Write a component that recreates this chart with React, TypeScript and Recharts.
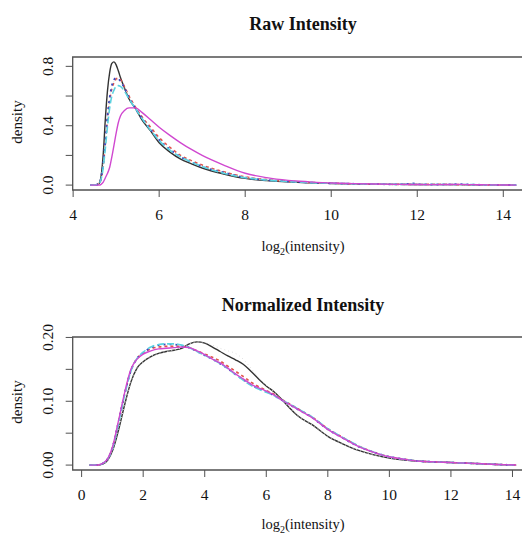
import React from "react";
import { LineChart, Line, XAxis, YAxis, ReferenceArea } from "recharts";

// ---------- Raw intensity panel ----------
const rawX = [4.4, 4.5, 4.6, 4.65, 4.7, 4.75, 4.8, 4.85, 4.9, 4.95, 5.0, 5.05, 5.1, 5.2, 5.3, 5.45, 5.6, 5.8, 6.0, 6.25, 6.5, 6.75, 7.0, 7.5, 8.0, 8.5, 9.0, 9.5, 10, 10.5, 11, 11.5, 11.85, 11.9, 12, 12.5, 13, 13.5, 14, 14.3];
const rawBlack = [0, 0, 0.01, 0.06, 0.21, 0.45, 0.64, 0.76, 0.82, 0.83, 0.81, 0.77, 0.725, 0.65, 0.58, 0.515, 0.44, 0.365, 0.285, 0.222, 0.175, 0.143, 0.115, 0.075, 0.045, 0.03, 0.022, 0.015, 0.011, 0.008, 0.006, 0.005, 0.004, 0.004, 0.004, 0.003, 0.003, 0.002, 0.001, 0];
const rawRed = [0, 0, 0.01, 0.04, 0.13, 0.28, 0.45, 0.57, 0.65, 0.69, 0.715, 0.72, 0.71, 0.66, 0.6, 0.525, 0.46, 0.39, 0.32, 0.255, 0.2, 0.165, 0.135, 0.09, 0.055, 0.037, 0.026, 0.018, 0.013, 0.009, 0.007, 0.005, 0.005, 0.005, 0.004, 0.006, 0.003, 0.002, 0.001, 0];
const rawGray = [0, 0, 0.01, 0.045, 0.14, 0.29, 0.46, 0.58, 0.66, 0.7, 0.71, 0.71, 0.7, 0.655, 0.595, 0.52, 0.455, 0.38, 0.31, 0.245, 0.192, 0.158, 0.128, 0.086, 0.052, 0.035, 0.024, 0.017, 0.012, 0.009, 0.007, 0.005, 0.005, 0.005, 0.004, 0.004, 0.003, 0.002, 0.001, 0];
const rawBlue = [0, 0, 0.01, 0.05, 0.15, 0.3, 0.47, 0.59, 0.67, 0.71, 0.72, 0.715, 0.7, 0.65, 0.59, 0.515, 0.45, 0.375, 0.305, 0.24, 0.19, 0.155, 0.125, 0.085, 0.05, 0.034, 0.024, 0.017, 0.012, 0.009, 0.007, 0.005, 0.01, 0.012, 0.005, 0.004, 0.006, 0.002, 0.001, 0];
const rawCyan = [0, 0, 0.01, 0.04, 0.12, 0.25, 0.4, 0.52, 0.6, 0.64, 0.665, 0.67, 0.665, 0.63, 0.58, 0.515, 0.45, 0.37, 0.3, 0.235, 0.19, 0.155, 0.125, 0.08, 0.05, 0.034, 0.024, 0.017, 0.012, 0.009, 0.007, 0.005, 0.005, 0.005, 0.004, 0.004, 0.004, 0.002, 0.001, 0];
const rawMagenta = [0, 0, 0, 0.005, 0.02, 0.05, 0.08, 0.12, 0.19, 0.27, 0.35, 0.42, 0.465, 0.505, 0.52, 0.52, 0.49, 0.44, 0.39, 0.335, 0.285, 0.24, 0.2, 0.135, 0.08, 0.05, 0.032, 0.022, 0.014, 0.01, 0.007, 0.005, 0.004, 0.004, 0.004, 0.003, 0.005, 0.002, 0.001, 0];
const rawXTicks = [4, 6, 8, 10, 12, 14];
const rawYTicks = [0, 0.2, 0.4, 0.6, 0.8];
const rawYLabels = ["0.0", "", "0.4", "", "0.8"];

// ---------- Normalized intensity panel ----------
const normX = [0.26, 0.5, 0.7, 0.85, 1.0, 1.2, 1.4, 1.6, 1.8, 2.0, 2.25, 2.5, 2.75, 3.0, 3.25, 3.5, 3.75, 4.0, 4.25, 4.5, 4.75, 5.0, 5.25, 5.5, 5.75, 6.0, 6.25, 6.5, 6.75, 7.0, 7.5, 8.0, 8.5, 9.0, 9.5, 10, 10.5, 11, 11.5, 12, 12.5, 13, 13.5, 14.12];
const normBlack = [0, 0, 0.002, 0.008, 0.022, 0.055, 0.095, 0.13, 0.152, 0.162, 0.17, 0.175, 0.178, 0.18, 0.183, 0.19, 0.193, 0.191, 0.185, 0.178, 0.171, 0.165, 0.158, 0.147, 0.135, 0.124, 0.115, 0.103, 0.09, 0.078, 0.063, 0.045, 0.033, 0.023, 0.016, 0.011, 0.008, 0.006, 0.005, 0.004, 0.003, 0.002, 0.001, 0];
const normRed = [0, 0, 0.003, 0.01, 0.027, 0.068, 0.112, 0.148, 0.167, 0.175, 0.182, 0.185, 0.186, 0.186, 0.186, 0.184, 0.179, 0.174, 0.169, 0.163, 0.155, 0.147, 0.139, 0.13, 0.123, 0.117, 0.111, 0.103, 0.096, 0.089, 0.075, 0.057, 0.043, 0.03, 0.02, 0.013, 0.009, 0.006, 0.005, 0.004, 0.003, 0.002, 0.001, 0];
const normGray = [0, 0, 0.002, 0.008, 0.022, 0.055, 0.095, 0.13, 0.152, 0.162, 0.17, 0.175, 0.178, 0.18, 0.184, 0.19, 0.193, 0.192, 0.188, 0.183, 0.179, 0.175, 0.166, 0.152, 0.137, 0.125, 0.115, 0.103, 0.09, 0.078, 0.063, 0.045, 0.033, 0.023, 0.016, 0.011, 0.008, 0.006, 0.005, 0.004, 0.003, 0.002, 0.001, 0];
const normBlue = [0, 0, 0.003, 0.01, 0.027, 0.068, 0.112, 0.148, 0.167, 0.176, 0.184, 0.188, 0.189, 0.189, 0.187, 0.184, 0.178, 0.172, 0.166, 0.159, 0.151, 0.142, 0.134, 0.126, 0.12, 0.115, 0.109, 0.102, 0.095, 0.088, 0.074, 0.056, 0.042, 0.029, 0.02, 0.013, 0.009, 0.006, 0.005, 0.004, 0.003, 0.002, 0.001, 0];
const normCyan = [0, 0, 0.003, 0.01, 0.026, 0.066, 0.11, 0.147, 0.167, 0.177, 0.185, 0.189, 0.19, 0.19, 0.188, 0.184, 0.178, 0.172, 0.166, 0.159, 0.151, 0.142, 0.133, 0.125, 0.119, 0.114, 0.109, 0.102, 0.096, 0.089, 0.075, 0.057, 0.043, 0.03, 0.02, 0.013, 0.009, 0.006, 0.005, 0.004, 0.003, 0.002, 0.001, 0];
const normMagenta = [0, 0, 0.003, 0.01, 0.028, 0.07, 0.114, 0.15, 0.166, 0.174, 0.179, 0.182, 0.183, 0.184, 0.185, 0.184, 0.179, 0.173, 0.166, 0.16, 0.152, 0.143, 0.135, 0.127, 0.121, 0.116, 0.11, 0.102, 0.095, 0.088, 0.074, 0.056, 0.042, 0.029, 0.02, 0.013, 0.009, 0.006, 0.005, 0.004, 0.003, 0.002, 0.001, 0];
const normXTicks = [0, 2, 4, 6, 8, 10, 12, 14];
const normYTicks = [0, 0.05, 0.1, 0.15, 0.2];
const normYLabels = ["0.00", "", "0.10", "", "0.20"];

const seriesKeys = ["black", "red", "gray", "blue", "cyan", "magenta"];

const FONT = "'Liberation Serif', 'DejaVu Serif', serif";
const AXIS = "#505050";

function buildRows(xs: number[], cols: number[][]) {
  return xs.map((x, i) => {
    const row: any = { x };
    seriesKeys.forEach((k, j) => {
      row[k] = cols[j][i];
    });
    return row;
  });
}

const rawRows = buildRows(rawX, [rawBlack, rawRed, rawGray, rawBlue, rawCyan, rawMagenta]);
const normRows = buildRows(normX, [normBlack, normRed, normGray, normBlue, normCyan, normMagenta]);

const styles: Record<string, any> = {
  black: { stroke: "#333333", strokeWidth: 1.4 },
  red: { stroke: "#e0524a", strokeWidth: 1.6, strokeDasharray: "3 3" },
  gray: { stroke: "#dedede", strokeWidth: 1, strokeDasharray: "1 3" },
  blue: { stroke: "#3848c0", strokeWidth: 1.8, strokeDasharray: "2 4" },
  cyan: { stroke: "#5ad2e0", strokeWidth: 1.6, strokeDasharray: "7 3" },
  magenta: { stroke: "#d048d0", strokeWidth: 1.4 },
};

const XTick = (props: any) => {
  const { x, y, payload } = props;
  return (
    <text x={x} y={y + 15} textAnchor="middle" dominantBaseline="central" fontFamily={FONT} fontSize={15.5} fill="#111">
      {payload.value}
    </text>
  );
};

const makeYTick = (ticks: number[], labels: string[]) => (props: any) => {
  const { x, y, payload } = props;
  const idx = ticks.findIndex((t) => Math.abs(t - payload.value) < 1e-9);
  const label = idx >= 0 ? labels[idx] : "";
  if (!label) return <g />;
  const cx = x - 16;
  return (
    <text x={cx} y={y} textAnchor="middle" dominantBaseline="central" fontFamily={FONT} fontSize={15.5} fill="#111" transform={`rotate(-90, ${cx}, ${y})`}>
      {label}
    </text>
  );
};

const RawYTick = makeYTick(rawYTicks, rawYLabels);
const NormYTick = makeYTick(normYTicks, normYLabels);

function Panel(props: {
  rows: any[];
  height: number;
  bottom: number;
  xDomain: [number, number];
  yDomain: [number, number];
  xTicks: number[];
  yTicks: number[];
  YTick: any;
}) {
  const { rows, height, bottom, xDomain, yDomain, xTicks, yTicks, YTick } = props;
  return (
    <LineChart width={560} height={height} data={rows} margin={{ top: 57, left: 12.7, right: 26.6, bottom }}>
      <XAxis
        dataKey="x"
        type="number"
        domain={xDomain}
        allowDataOverflow
        ticks={xTicks}
        interval={0}
        height={30}
        axisLine={false}
        tickLine={{ stroke: AXIS, strokeWidth: 1 }}
        tickSize={7}
        tick={<XTick />}
      />
      <YAxis
        type="number"
        domain={yDomain}
        allowDataOverflow
        ticks={yTicks}
        interval={0}
        width={60}
        axisLine={false}
        tickLine={{ stroke: AXIS, strokeWidth: 1 }}
        tickSize={7}
        tick={<YTick />}
      />
      <ReferenceArea
        x1={xDomain[0]}
        x2={xDomain[1]}
        y1={yDomain[0]}
        y2={yDomain[1]}
        fill="none"
        fillOpacity={0}
        stroke={AXIS}
        strokeWidth={1.3}
        ifOverflow="visible"
      />
      {seriesKeys.map((k) => (
        <Line
          key={k}
          dataKey={k}
          type="monotone"
          dot={false}
          activeDot={false}
          isAnimationActive={false}
          {...styles[k]}
        />
      ))}
    </LineChart>
  );
}

export default function App() {
  return (
    <div style={{ position: "absolute", left: 0, top: 0, width: 522, height: 534, overflow: "hidden", background: "#fff" }}>
      <div style={{ position: "absolute", left: 0, top: 0 }}>
        <Panel
          rows={rawRows}
          height={267}
          bottom={47}
          xDomain={[3.99, 14.7]}
          yDomain={[-0.033, 0.863]}
          xTicks={rawXTicks}
          yTicks={rawYTicks}
          YTick={RawYTick}
        />
      </div>
      <div style={{ position: "absolute", left: 0, top: 280 }}>
        <Panel
          rows={normRows}
          height={254}
          bottom={34}
          xDomain={[-0.29, 14.68]}
          yDomain={[-0.0077, 0.2007]}
          xTicks={normXTicks}
          yTicks={normYTicks}
          YTick={NormYTick}
        />
      </div>
      <svg width={522} height={534} style={{ position: "absolute", left: 0, top: 0, pointerEvents: "none" }}>
        <g fontFamily={FONT} fill="#111">
          <text x={303} y={24} textAnchor="middle" dominantBaseline="central" fontSize={18} fontWeight="bold">
            Raw Intensity
          </text>
          <text x={303} y={305} textAnchor="middle" dominantBaseline="central" fontSize={18} fontWeight="bold">
            Normalized Intensity
          </text>
          <text x={303} y={251} textAnchor="middle" fontSize={14.5}>
            <tspan>log</tspan>
            <tspan dy={4} fontSize={10}>2</tspan>
            <tspan dy={-4}>(intensity)</tspan>
          </text>
          <text x={303} y={529} textAnchor="middle" fontSize={14.5}>
            <tspan>log</tspan>
            <tspan dy={4} fontSize={10}>2</tspan>
            <tspan dy={-4}>(intensity)</tspan>
          </text>
          <text x={17} y={122} textAnchor="middle" dominantBaseline="central" fontSize={15} transform="rotate(-90, 17, 122)">
            density
          </text>
          <text x={17} y={402} textAnchor="middle" dominantBaseline="central" fontSize={15} transform="rotate(-90, 17, 402)">
            density
          </text>
        </g>
      </svg>
    </div>
  );
}
